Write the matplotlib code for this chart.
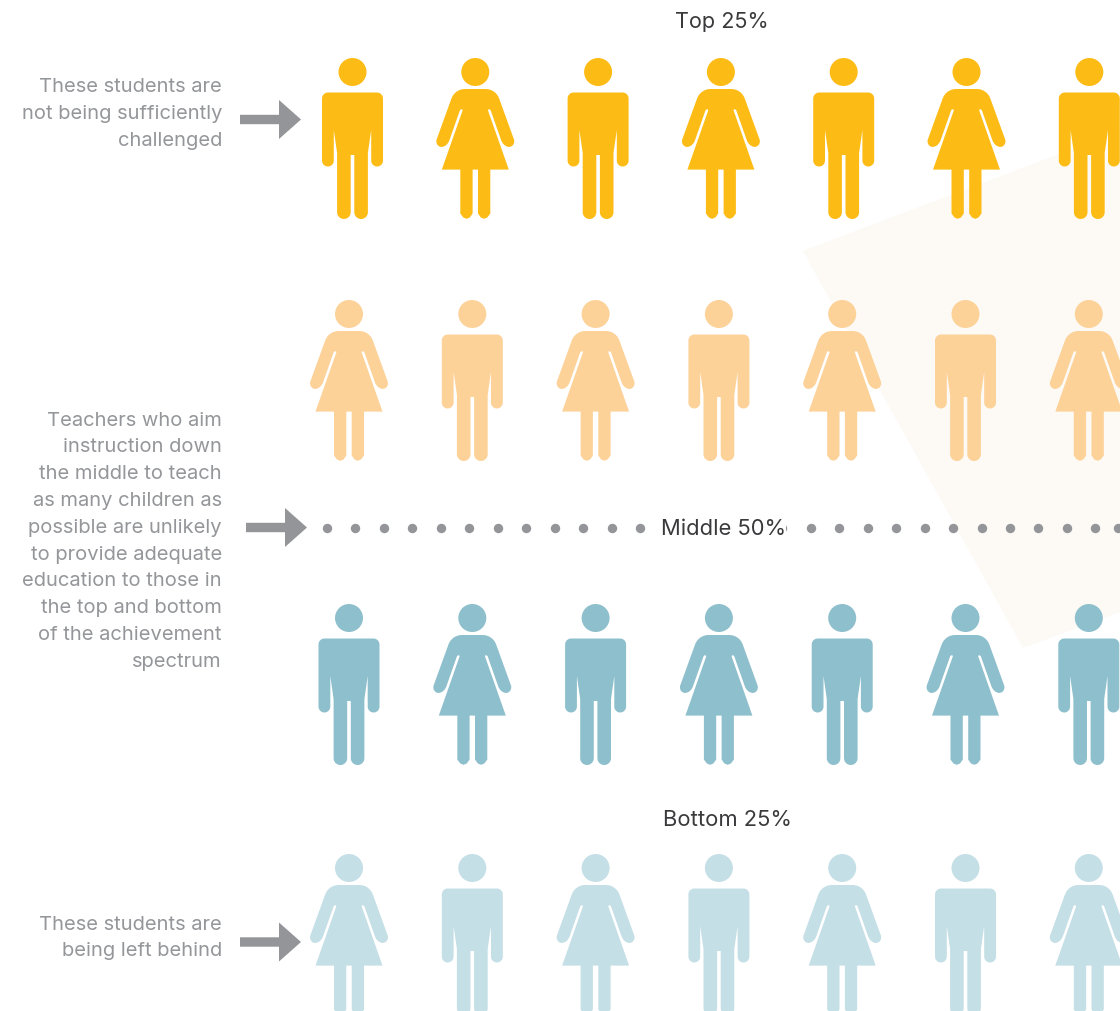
import numpy as np
import matplotlib
matplotlib.use("Agg")
import matplotlib.pyplot as plt
from matplotlib.patches import Circle, Polygon

plt.rcParams["font.family"] = ["Inter", "DejaVu Sans"]

# one row of icons per band, top to bottom
band_labels = ["Top 25%", "Middle 50%", "Bottom 25%"]
row_first = ["man", "woman", "man", "woman"]
row_colors = ["#FDBC15", "#FCD299", "#8EBFCC", "#C4DFE6"]
icons_per_row = 7

top_note = ["These students are", "not being sufficiently", "challenged"]
middle_note = ["Teachers who aim", "instruction down", "the middle to teach",
               "as many children as", "possible are unlikely", "to provide adequate",
               "education to those in", "the top and bottom", "of the achievement",
               "spectrum"]
bottom_note = ["These students are", "being left behind"]

GREY = "#939598"
TEXT = "#949699"
DARK = "#3a3a3c"


def rounded(points, n=9):
    # corners given as x, y, radius; swapped for a circular arc
    out = []
    m = len(points)
    for i, (x, y, r) in enumerate(points):
        if r == 0:
            out.append((x, y))
            continue
        p = np.array([x, y], float)
        a = np.array(points[i - 1][:2], float)
        b = np.array(points[(i + 1) % m][:2], float)
        ua = (a - p) / np.linalg.norm(a - p)
        ub = (b - p) / np.linalg.norm(b - p)
        p0 = p + ua * r
        p1 = p + ub * r
        w = np.sqrt(max(0.0, (1 - np.dot(ua, ub)) / 2))
        for t in np.linspace(0, 1, n):
            d = (1 - t) ** 2 + 2 * w * t * (1 - t) + t ** 2
            out.append(tuple(((1 - t) ** 2 * p0 + 2 * w * t * (1 - t) * p + t ** 2 * p1) / d))
    return out


def mirrored(half):
    pts = rounded(half)
    return np.array(pts + [(-x, y) for x, y in reversed(pts)])


# outlines relative to head centre, y pointing down
MAN = mirrored([(0, 20.5, 0), (30.5, 20.5, 6), (30.5, 94.5, 5.9), (18.7, 94.5, 5.9),
                (18.7, 58, 0), (15.4, 81, 0), (15.4, 147, 6.8), (1.8, 147, 6.8),
                (1.8, 83, 0), (0, 83, 0)])
WOMAN = mirrored([(0, 17, 0), (20.4, 17, 10), (39.6, 70, 3), (36.5, 75, 3), (30.5, 75, 4),
                  (26.5, 70, 2), (15, 37.3, 1.3), (12.3, 37.3, 1.3), (33.5, 97.6, 0),
                  (15, 97.6, 0), (15, 141.5, 0), (12, 145.5, 0), (8.8, 146.8, 0),
                  (5.5, 145.5, 0), (2.7, 141.5, 0), (2.7, 97.6, 0), (0, 97.6, 0)])


def person(ax, kind, cx, cy, color):
    shape = MAN if kind == "man" else WOMAN
    ax.add_patch(Polygon(shape + [cx, cy], closed=True, fc=color, ec="none", zorder=3))
    ax.add_patch(Circle((cx, cy), 14, fc=color, ec="none", zorder=3))


def arrow(ax, x, y):
    pts = [(x, y - 4.7), (x + 39, y - 4.7), (x + 39, y - 19.5), (x + 61, y),
           (x + 39, y + 19.5), (x + 39, y + 4.7), (x, y + 4.7)]
    ax.add_patch(Polygon(pts, closed=True, fc=GREY, ec="none", zorder=3))


def note(ax, lines, y0, step):
    for i, line in enumerate(lines):
        ax.text(222, y0 + i * step, line, ha="right", va="center", fontsize=14.5,
                color=TEXT)


fig = plt.figure(figsize=(11.2, 10.11), dpi=100)
ax = fig.add_axes([0, 0, 1, 1])
ax.set_xlim(0, 1120)
ax.set_ylim(1011, 0)
ax.axis("off")

# pale wedge behind the right side
ax.add_patch(Polygon([(803, 251), (1120, 131), (1120, 612), (1023, 648)], closed=True,
                     fc="#FDFAF5", ec="none", zorder=1))

row_y = [72, 314, 618, 868]
row_x0 = [352.5, 349, 349, 349]
row_step = [122.8, 123.3, 123.3, 123.3]
for r in range(4):
    kinds = ["man", "woman"] if row_first[r] == "man" else ["woman", "man"]
    for i in range(icons_per_row):
        person(ax, kinds[i % 2], row_x0[r] + i * row_step[r], row_y[r], row_colors[r])

# dotted divider, the label box cuts a gap in it
dots_x = list(np.arange(327, 1100, 28.46)) + [1118]
ax.scatter(dots_x, [527.5] * len(dots_x), s=46, color=GREY, linewidths=0, zorder=2)
ax.add_patch(plt.Rectangle((650, 510), 135.5, 36, fc="white", ec="none", zorder=2.5))

ax.text(722, 22, band_labels[0], ha="center", va="center", fontsize=15.6, color=DARK, zorder=4)
ax.text(723.5, 529, band_labels[1], ha="center", va="center", fontsize=15.8, color=DARK, zorder=4)
ax.text(727.5, 820, band_labels[2], ha="center", va="center", fontsize=15.8, color=DARK, zorder=4)

note(ax, top_note, 87.5, 26.8)
note(ax, middle_note, 420.5, 26.8)
note(ax, bottom_note, 924.5, 26.8)

arrow(ax, 240, 119.5)
arrow(ax, 246, 527.5)
arrow(ax, 240, 942)

fig.savefig("out.png", dpi=100)
